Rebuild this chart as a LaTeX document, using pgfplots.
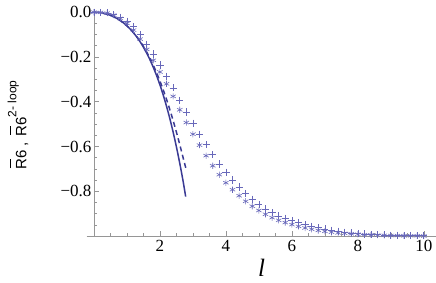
\documentclass[border=0pt]{standalone}
\usepackage{fontspec}
\setmainfont{Liberation Serif}
\newfontfamily\sansf{Liberation Sans}
\usepackage{pgfplots}
\usepackage{pgfplotstable}
\pgfplotsset{compat=1.18}
\definecolor{lineblue}{RGB}{58,58,148}
\definecolor{markblue}{RGB}{104,104,186}
\definecolor{axisgray}{RGB}{150,150,150}
\newcommand\Rbar{\leavevmode\rlap{\hspace{1.2pt}\raisebox{15pt}{\rule{9pt}{1.1pt}}}R}

\pgfplotstableread{
x y
0.0 0.0
0.1 -0.0005
0.2 -0.0022
0.3 -0.0049
0.4 -0.0089
0.5 -0.0140
0.6 -0.0204
0.7 -0.0282
0.8 -0.0375
0.9 -0.0484
1.0 -0.0610
1.1 -0.0755
1.2 -0.0921
1.3 -0.1110
1.4 -0.1322
1.5 -0.1562
1.6 -0.1831
1.7 -0.2131
1.8 -0.2465
1.9 -0.2836
2.0 -0.3247
2.1 -0.3702
2.2 -0.4202
2.3 -0.4753
2.4 -0.5357
2.5 -0.6019
2.6 -0.6742
2.7 -0.7530
2.78 -0.8240
}\solid

\pgfplotstableread{
x y
0.0 0.0
0.2 -0.0022
0.4 -0.0089
0.6 -0.0204
0.8 -0.0374
1.0 -0.0607
1.1 -0.0750
1.2 -0.0913
1.3 -0.1097
1.4 -0.1302
1.5 -0.1531
1.6 -0.1786
1.7 -0.2066
1.8 -0.2373
1.9 -0.2709
2.0 -0.3074
2.1 -0.3470
2.2 -0.3896
2.3 -0.4353
2.4 -0.4841
2.5 -0.5360
2.6 -0.5908
2.7 -0.6484
2.8 -0.7050
}\dashed

\pgfplotstableread{
x p a
0.0 0.000 0.000
0.2 -0.001 -0.001
0.4 -0.003 -0.004
0.6 -0.010 -0.013
0.8 -0.022 -0.028
1.0 -0.040 -0.050
1.2 -0.065 -0.080
1.4 -0.100 -0.120
1.6 -0.143 -0.166
1.8 -0.187 -0.215
2.0 -0.236 -0.267
2.2 -0.286 -0.320
2.4 -0.338 -0.376
2.6 -0.393 -0.436
2.8 -0.446 -0.493
3.0 -0.496 -0.545
3.2 -0.545 -0.594
3.4 -0.592 -0.641
3.6 -0.637 -0.686
3.8 -0.678 -0.726
4.0 -0.715 -0.762
4.2 -0.750 -0.793
4.4 -0.781 -0.820
4.6 -0.810 -0.845
4.8 -0.836 -0.867
5.0 -0.859 -0.886
5.2 -0.879 -0.903
5.4 -0.896 -0.918
5.6 -0.910 -0.930
5.8 -0.921 -0.940
6.0 -0.931 -0.949
6.2 -0.940 -0.957
6.4 -0.949 -0.964
6.6 -0.956 -0.970
6.8 -0.963 -0.975
7.0 -0.969 -0.979
7.2 -0.974 -0.983
7.4 -0.979 -0.986
7.6 -0.983 -0.988
7.8 -0.986 -0.990
8.0 -0.989 -0.992
8.2 -0.991 -0.994
8.4 -0.993 -0.995
8.6 -0.994 -0.996
8.8 -0.995 -0.997
9.0 -0.996 -0.998
9.2 -0.997 -0.998
9.4 -0.998 -0.999
9.6 -0.998 -0.999
9.8 -0.999 -0.999
10.0 -0.999 -1.000
}\markers

\begin{document}
\begin{tikzpicture}
\useasboundingbox (-86.7pt,-46pt) rectangle (349.3pt,236pt);
\begin{axis}[
  at={(0,0)}, anchor=south west,
  scale only axis, width=349pt, height=226.7pt,
  xmin=-0.22, xmax=10.36, ymin=-1, ymax=0.013,
  axis x line=bottom, axis y line=middle,
  axis line style={draw=axisgray, line width=0.6pt, -},
  every inner x axis line/.append style={-},
  every inner y axis line/.append style={-},
  tick align=inside,
  xtick align=inside, ytick align=inside,
  major tick length=5pt, minor tick length=3pt,
  every tick/.style={axisgray, line width=0.6pt},
  xtick={2,4,6,8,10}, xticklabels={2,4,6,8,10},
  minor xtick={0.5,1,1.5,2.5,3,3.5,4.5,5,5.5,6.5,7,7.5,8.5,9,9.5},
  ytick={-0.8,-0.6,-0.4,-0.2,0}, yticklabels={−0.8,−0.6,−0.4,−0.2,0.0},
  minor ytick={-0.95,-0.9,-0.85,-0.75,-0.7,-0.65,-0.55,-0.5,-0.45,-0.35,-0.3,-0.25,-0.15,-0.1,-0.05},
  hide obscured x ticks=false, hide obscured y ticks=false,
  ticklabel style={font=\rmfamily\fontsize{17}{20}\selectfont, text=black},
  xticklabel style={anchor=north, yshift=-1pt},
  yticklabel style={anchor=east, xshift=1pt},
  every axis x label/.style={at={(axis description cs:0.501,-0.141)}, anchor=center},
  every axis y label/.style={at={(axis description cs:-0.197,0.49)}, anchor=center, rotate=90},
  xlabel={\fontsize{25}{28}\selectfont\itshape l},
  ylabel={\sansf\fontsize{15}{17}\selectfont \Rbar6\hspace{4pt},\hspace{6pt}\Rbar6\raisebox{10pt}{\fontsize{12}{14}\selectfont 2- loop}},
  clip=false,
]
\addplot[only marks, mark=+, mark size=3.6pt, markblue, mark options={line width=0.7pt}] table[x=x, y=p] {\markers};
\addplot[only marks, mark=asterisk, mark size=3.1pt, markblue, mark options={line width=0.6pt}] table[x=x, y=a] {\markers};
\addplot[lineblue, line width=1.5pt, smooth] table {\solid};
\addplot[lineblue, line width=1.5pt, smooth, dash pattern=on 5pt off 3.5pt] table {\dashed};
\end{axis}
\end{tikzpicture}
\end{document}
